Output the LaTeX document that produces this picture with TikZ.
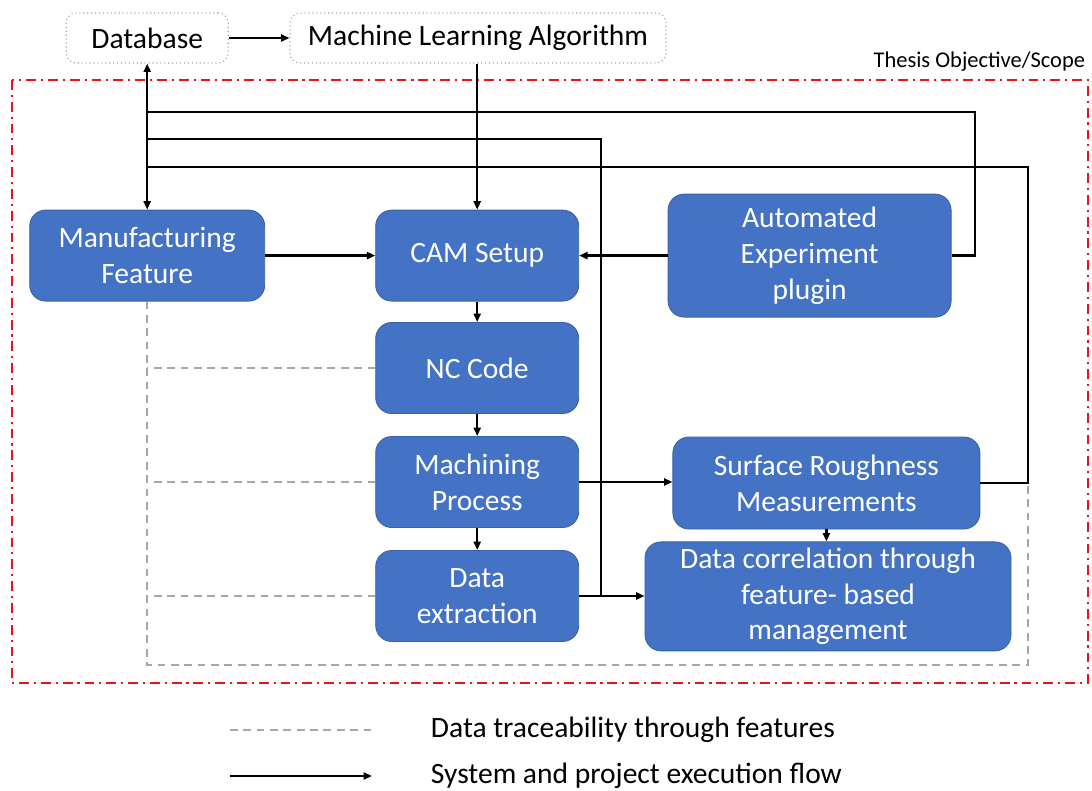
\documentclass[tikz,border=0pt]{standalone}
\usepackage{fontspec}
\setmainfont{Carlito}
\usepackage{tikz}
\usetikzlibrary{arrows.meta}
\definecolor{BoxBlue}{HTML}{4472C4}
\definecolor{ScopeRed}{HTML}{E8141B}
\definecolor{TraceGray}{HTML}{A6A6A6}

\begin{document}
\begin{tikzpicture}[
    >={Triangle[length=6pt,width=5pt]},
    every node/.style={font=\fontsize{21}{25.5}\selectfont},
    flowbox/.style={draw=BoxBlue!85!black, fill=BoxBlue, text=white, rounded corners=0.4cm, align=center, minimum height=2.275cm, line width=0.6pt},
    topbox/.style={draw=gray!70, dotted, rounded corners=0.25cm, minimum height=1.25cm, line width=0.8pt},
    flow/.style={line width=1.8pt},
    trace/.style={draw=TraceGray, line width=1pt, dash pattern=on 5.5pt off 4pt},
    scope/.style={draw=ScopeRed, line width=2pt, dash pattern=on 7pt off 3.5pt on 1.5pt off 3.5pt}
]
\useasboundingbox (0,0) rectangle (27.3,-19.775);
\node[topbox, minimum width=4.05cm] (db) at (3.68,-0.95) {Database};
\node[topbox, minimum width=9.4cm] (ml) at (11.95,-0.95) {Machine Learning Algorithm};
\draw[scope] (0.3,-2.0) rectangle (27.2,-17.075);
\node[anchor=east, font=\fontsize{16}{19}\selectfont] (scopelbl) at (27.25,-1.55) {Thesis Objective/Scope};

\node[flowbox, minimum width=5.875cm] (mf) at (3.68,-6.39) {Manufacturing\\Feature};
\node[flowbox, minimum width=5.075cm] (cam) at (11.93,-6.39) {CAM Setup};
\node[flowbox, minimum width=7.075cm, minimum height=3.075cm] (aep) at (20.24,-6.39) {Automated\\Experiment\\plugin};
\node[flowbox, minimum width=5.075cm] (nc) at (11.93,-9.2) {NC Code};
\node[flowbox, minimum width=5.075cm] (mp) at (11.93,-12.05) {Machining\\Process};
\node[flowbox, minimum width=5.075cm] (de) at (11.93,-14.9) {Data\\extraction};
\node[flowbox, minimum width=7.675cm, minimum height=2.3cm] (sr) at (20.66,-12.075) {Surface Roughness\\Measurements};
\node[flowbox, minimum width=9.15cm, minimum height=2.725cm] (dc) at (20.7,-14.91) {Data correlation through\\feature- based\\management};

\coordinate (t1) at (3.68,-2.8);
\coordinate (t2) at (3.68,-3.475);
\coordinate (t3) at (3.68,-4.175);
\coordinate (dj) at (15.025,-14.9);
\coordinate (tc) at (25.7,-16.625);

\draw[trace] (mf.south) |- (tc) -- (sr.east -| tc);
\draw[trace] (nc.west) -- (nc.west -| mf.south);
\draw[trace] (mp.west) -- (mp.west -| mf.south);
\draw[trace] (de.west) -- (de.west -| mf.south);

\draw[->, flow] (db) -- (ml);
\draw[<->, flow] (mf.north) -- (db.south);
\draw[->, flow] (ml.south -| cam.north) -- (cam.north);
\draw[->, flow] (mf) -- (cam);
\draw[->, flow] (aep) -- (cam);
\draw[->, flow] (cam) -- (nc);
\draw[->, flow] (nc) -- (mp);
\draw[->, flow] (mp) -- (de);
\draw[->, flow] (mp.east) -- (sr.west |- mp.east);
\draw[->, flow] (de.east) -- (dc.west |- de.east);
\draw[->, flow] (sr.south -| 20.66,0) -- (dc.north -| 20.66,0);
\draw[flow] (aep.east) -| (24.375,-2.8) -- (t1);
\draw[flow] (dj) |- (t2);
\draw[flow] (sr.east) -| (25.7,-4.175) -- (t3);

\draw[trace] (5.75,-18.25) -- (9.4,-18.25);
\node[anchor=west] (lgtrace) at (10.65,-18.25) {Data traceability through features};
\draw[->, flow] (5.75,-19.4) -- (9.3,-19.4);
\node[anchor=west] (lgflow) at (10.65,-19.4) {System and project execution flow};
\end{tikzpicture}
\end{document}
